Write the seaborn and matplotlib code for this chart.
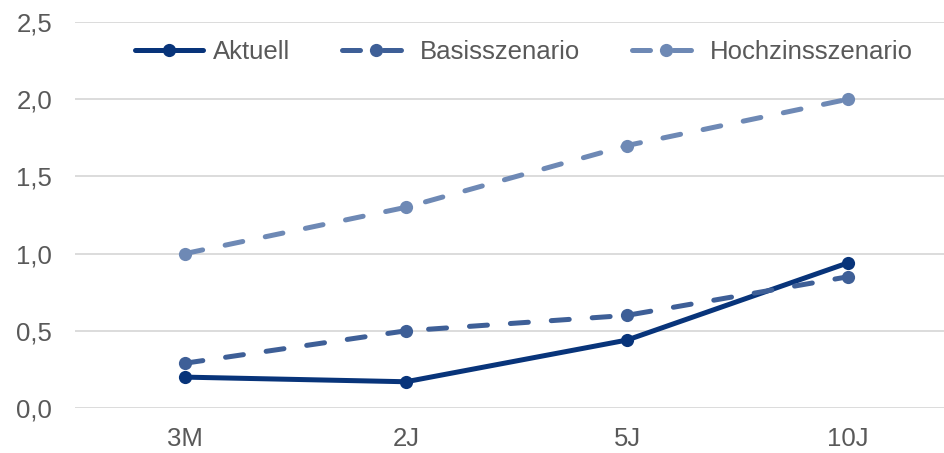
import matplotlib
matplotlib.use("Agg")
import matplotlib.pyplot as plt
import seaborn as sns
import pandas as pd
from matplotlib.lines import Line2D

categories = ["3M", "2J", "5J", "10J"]
aktuell = [0.20, 0.17, 0.44, 0.94]
basis = [0.29, 0.50, 0.60, 0.85]
hoch = [1.00, 1.30, 1.70, 2.00]
series_names = ["Aktuell", "Basisszenario", "Hochzinsszenario"]
yticks = [0.0, 0.5, 1.0, 1.5, 2.0, 2.5]

sns.set_theme(style="white")
plt.rcParams["font.family"] = ["Liberation Sans", "DejaVu Sans"]

rows = []
for name, vals in zip(series_names, [aktuell, basis, hoch]):
    for i, (c, v) in enumerate(zip(categories, vals)):
        rows.append({"Laufzeit": i, "Wert": v, "Serie": name})
df = pd.DataFrame(rows)

LW = 3.6
MS = 9.5
DASH = (3.6, 4.6)
palette = {"Aktuell": "#08347A", "Basisszenario": "#3E5F97", "Hochzinsszenario": "#6E89B5"}
dashes = {"Aktuell": "", "Basisszenario": DASH, "Hochzinsszenario": DASH}

fig = plt.figure(figsize=(9.45, 4.53), dpi=100)
ax = fig.add_axes([74.5 / 945, 45 / 453, 884 / 945, 386 / 453])

sns.lineplot(data=df, x="Laufzeit", y="Wert", hue="Serie", style="Serie",
             palette=palette, dashes=dashes, markers={n: "o" for n in series_names},
             linewidth=LW, markersize=MS, markeredgewidth=0, ax=ax, legend=False)

for line in ax.get_lines():
    line.set_dash_capstyle("round")
    line.set_solid_capstyle("round")
    line.set_clip_on(False)

ax.set_xlim(-0.5, 3.5)
ax.set_ylim(0, 2.5)
ax.set_xticks(range(len(categories)))
ax.set_xticklabels(categories)
ax.set_yticks(yticks)
ax.set_yticklabels([f"{t:.1f}".replace(".", ",") for t in yticks])
ax.set_xlabel("")
ax.set_ylabel("")
ax.grid(axis="y", color="#D9D9D9", linewidth=1.3)
ax.set_axisbelow(True)
for s in ax.spines.values():
    s.set_visible(False)
ax.tick_params(axis="both", length=0, labelsize=18.5, colors="#595959")
ax.tick_params(axis="x", pad=14)
ax.tick_params(axis="y", pad=16)

handles = []
for n in series_names:
    ls = "-" if n == "Aktuell" else (0, DASH)
    h = Line2D([0], [0], color=palette[n], linewidth=LW, linestyle=ls,
               marker="o", markersize=MS, markeredgewidth=0,
               dash_capstyle="round", solid_capstyle="round")
    handles.append(h)
fig.legend(handles, series_names, loc="center", bbox_to_anchor=(524 / 945, 1 - 52 / 453),
           ncol=3, frameon=False, fontsize=18.5, labelcolor="#595959",
           handlelength=2.65, handletextpad=0.4, columnspacing=2.0, numpoints=1)

fig.savefig("out.png", dpi=100)
